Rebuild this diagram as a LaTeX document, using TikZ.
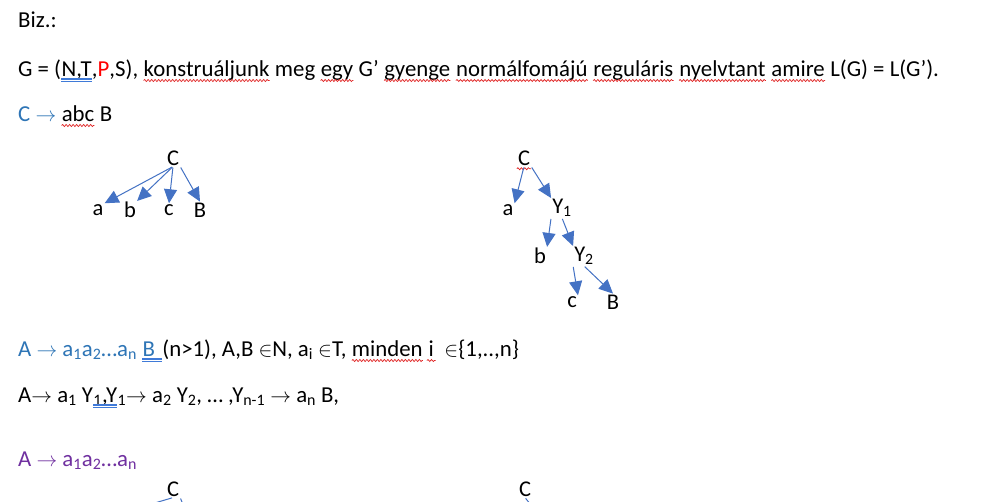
\documentclass[tikz,border=0pt]{standalone}
\usepackage{fontspec}
\setmainfont{Carlito}
\usetikzlibrary{arrows.meta,decorations.pathmorphing}
\definecolor{wordblue}{HTML}{2E75B6}
\definecolor{arrowblue}{HTML}{4472C4}
\definecolor{wordpurple}{HTML}{7030A0}
\definecolor{squig}{HTML}{E02020}
\definecolor{dblue}{HTML}{3F7AD8}
\newcommand\wsp{\kern5.1pt}
\newcommand\ar{\ensuremath{\rightarrow}}
\newcommand\inn{\ensuremath{\in}}
\begin{document}
\begin{tikzpicture}[x=1pt,y=-1pt,
  txt/.style={anchor=base west,inner sep=0pt,font=\fontsize{22.8}{27}\selectfont},
  tn/.style={inner sep=1pt,font=\fontsize{22.5}{27}\selectfont},
  edge/.style={draw=arrowblue,line width=1pt,-{Triangle[width=13pt,length=14pt]},shorten <=1pt,shorten >=0pt},
  wave/.style={draw=squig,line width=0.7pt,decorate,decoration={snake,amplitude=1pt,segment length=3.5pt}},
  dline/.style={draw=dblue,line width=1.2pt}]
\newcommand\wavy[1]{\draw[wave] ([yshift=-4.5pt]#1.base west) -- ([yshift=-4.5pt]#1.base east);}
\newcommand\dbline[1]{\draw[dline] ([yshift=-3pt]#1.base west) -- ([yshift=-3pt]#1.base east) ([yshift=-5.8pt]#1.base west) -- ([yshift=-5.8pt]#1.base east);}
\useasboundingbox[fill=white] (0,0) rectangle (1001,501);
% line 1
\node[txt] (l1) at (18,27) {Biz.:};
% line 2
\node[txt] (g1) at (18,76) {G = (};
\node[txt] (g2) at (g1.base east) {N,T};
\node[txt] (g3) at (g2.base east) {,{\color{red}P},S),\wsp};
\node[txt] (g4) at (g3.base east) {konstruáljunk};
\node[txt] (g5) at (g4.base east) {\wsp meg\wsp};
\node[txt] (g6) at (g5.base east) {egy};
\node[txt] (g7) at (g6.base east) {\wsp G’\wsp};
\node[txt] (g8) at (g7.base east) {gyenge};
\node[txt] (g9) at (g8.base east) {\wsp};
\node[txt] (g10) at (g9.base east) {normálfomájú};
\node[txt] (g11) at (g10.base east) {\wsp};
\node[txt] (g12) at (g11.base east) {reguláris};
\node[txt] (g13) at (g12.base east) {\wsp};
\node[txt] (g14) at (g13.base east) {nyelvtant};
\node[txt] (g15) at (g14.base east) {\wsp};
\node[txt] (g16) at (g15.base east) {amire};
\node[txt] (g17) at (g16.base east) {\wsp L(G) = L(G’).};
\dbline{g2}
\wavy{g4}\wavy{g6}\wavy{g8}\wavy{g10}\wavy{g12}\wavy{g14}\wavy{g16}
% line 3
\node[txt] (c1) at (18,121) {\color{wordblue}C \ar\wsp};
\node[txt] (c2) at (c1.base east) {abc};
\node[txt] (c3) at (c2.base east) {\wsp B};
\wavy{c2}
% line 4
\node[txt] (a1) at (18,356) {\color{wordblue}A \ar\ a\textsubscript{1}a\textsubscript{2}…a\textsubscript{n}\wsp};
\node[txt] (a2) at (a1.base east) {\color{wordblue}B\wsp\kern2pt};
\node[txt] (a3) at (a2.base east) {(n>1), A,B \inn N, a\textsubscript{i} \inn T,\wsp};
\node[txt] (a4) at (a3.base east) {minden};
\node[txt] (a5) at (a4.base east) {\wsp};
\node[txt] (a6) at (a5.base east) {i};
\node[txt] (a7) at (a6.base east) {\wsp\wsp\inn\{1,..,n\}};
\dbline{a2}
\wavy{a4}
\draw[wave] ([yshift=-4.5pt,xshift=-1.5pt]a6.base west) -- ([yshift=-4.5pt,xshift=1.5pt]a6.base east);
% line 5
\node[txt] (b1) at (18,402) {A\ar\ a\textsubscript{1} Y};
\node[txt] (b2) at (b1.base east) {\textsubscript{1},Y};
\node[txt] (b3) at (b2.base east) {\textsubscript{1}\ar\ a\textsubscript{2} Y\textsubscript{2}, … ,Y\textsubscript{n-1} \ar\ a\textsubscript{n} B,};
\dbline{b2}
% line 6
\node[txt] (p1) at (18,466) {\color{wordpurple}A \ar\ a\textsubscript{1}a\textsubscript{2}…a\textsubscript{n}};
% tree 1
\node[tn] (t1C) at (173,158) {C};
\node[tn] (t1a) at (98,210) {a};
\node[tn] (t1b) at (130,210) {b};
\node[tn] (t1c) at (169,210) {c};
\node[tn] (t1B) at (200,210) {B};
\draw[edge] (t1C.south) to (t1a.north east);
\draw[edge] (t1C.south) to (t1b.north east);
\draw[edge] (t1C.south) to (t1c.north);
\draw[edge] (t1C.south east) to (t1B.north);
% tree 2
\node[tn] (t2C) at (524,158) {C};
\draw[wave] ([yshift=-3.5pt]t2C.base west) -- ([yshift=-3.5pt]t2C.base east);
\node[tn] (t2a) at (508,210) {a};
\node[tn] (t2Y1) at (562,208) {Y\textsubscript{1}};
\node[tn] (t2b) at (540,256) {b};
\node[tn] (t2Y2) at (584,256) {Y\textsubscript{2}};
\node[tn] (t2c) at (572,302) {c};
\node[tn] (t2B) at (613,302) {B};
\draw[edge] (t2C.south) to (t2a.north east);
\draw[edge] (t2C.south east) to (t2Y1.north west);
\draw[edge] (t2Y1.south west) to (t2b.north east);
\draw[edge] (t2Y1.south) to (t2Y2.north west);
\draw[edge] (t2Y2.south west) to (t2c.north east);
\draw[edge] (t2Y2.south) to (t2B.north);
% bottom trees (cut off)
\node[tn] (t3C) at (173,489) {C};
\coordinate (t3l) at (148,505);
\coordinate (t3r) at (186,512);
\draw[edge,-] (t3C.south) to (t3l);
\draw[edge,-] (t3C.south east) to (t3r);
\node[tn] (t4C) at (525,489) {C};
\coordinate (t4r) at (535,510);
\draw[edge,-] (t4C.south) to (t4r);
\end{tikzpicture}
\end{document}
